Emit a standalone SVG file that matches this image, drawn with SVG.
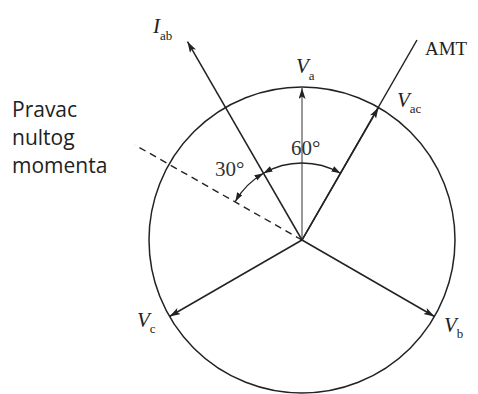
<svg xmlns="http://www.w3.org/2000/svg" width="478" height="394" viewBox="0 0 478 394">
  <style>
    .ln { stroke: #222; stroke-width: 1.5; fill: none; }
    .vec { stroke: #222; stroke-width: 1.5; fill: none; marker-end: url(#ah); }
    .arc { stroke: #222; stroke-width: 1.3; fill: none; marker-start: url(#ah2); marker-end: url(#ah2); }
    .m { font-family: "Liberation Serif", serif; font-style: italic; font-size: 21px; fill: #222; }
    .sub { font-style: normal; font-size: 13px; }
    .r { font-family: "Liberation Serif", serif; font-size: 21px; fill: #333; }
    .s { font-family: "Open Sans", sans-serif; font-size: 21px; fill: #222; }
  </style>
  <defs>
    <marker id="ah" markerUnits="userSpaceOnUse" markerWidth="12" markerHeight="8" refX="11" refY="3.5" orient="auto">
      <path d="M0,0 L11,3.5 L0,7 L2.5,3.5 z" fill="#222"/>
    </marker>
    <marker id="ah2" markerUnits="userSpaceOnUse" markerWidth="10" markerHeight="7" refX="9" refY="3" orient="auto-start-reverse">
      <path d="M0,0 L9,3 L0,6 z" fill="#222"/>
    </marker>
  </defs>
  <rect width="478" height="394" fill="#fff"/>

  <g id="circle">
    <circle cx="302" cy="240" r="153" class="ln"/>
  </g>

  <g id="connectors">
    <line x1="302" y1="240" x2="417" y2="40" class="ln"/>
    <line x1="302" y1="240" x2="302" y2="88" stroke="#777" stroke-width="1.5" marker-end="url(#ah)"/>
    <line x1="302" y1="240" x2="378.5" y2="107.5" class="vec"/>
    <line x1="302" y1="240" x2="187.5" y2="41.7" class="vec"/>
    <line x1="302" y1="240" x2="169.5" y2="316.5" class="vec"/>
    <line x1="302" y1="240" x2="434.5" y2="316.5" class="vec"/>
    <line x1="302" y1="240" x2="135" y2="145" stroke="#222" stroke-width="1.4" stroke-dasharray="7,5"/>
    <path d="M263.5,173.3 A77,77 0 0 1 340.5,173.3" class="arc"/>
    <path d="M235.3,201.5 A77,77 0 0 1 263.5,173.3" class="arc"/>
  </g>

  <g id="labels">
    <text class="m" x="153" y="33">I<tspan class="sub" dy="7">ab</tspan></text>
    <text class="m" x="296" y="73">V<tspan class="sub" dy="7">a</tspan></text>
    <text class="m" x="397" y="107">V<tspan class="sub" dy="6">ac</tspan></text>
    <text class="m" x="137" y="327">V<tspan class="sub" dy="6">c</tspan></text>
    <text class="m" x="444" y="332">V<tspan class="sub" dy="6">b</tspan></text>
    <text x="425" y="55" font-family="Liberation Serif, serif" font-size="19" fill="#222">AMT</text>
    <text class="r" x="291" y="155">60°</text>
    <text class="r" x="215" y="176">30°</text>
    <text class="s" x="12" y="117">Pravac</text>
    <text class="s" x="12" y="145">nultog</text>
    <text class="s" x="12" y="173">momenta</text>
  </g>
</svg>
